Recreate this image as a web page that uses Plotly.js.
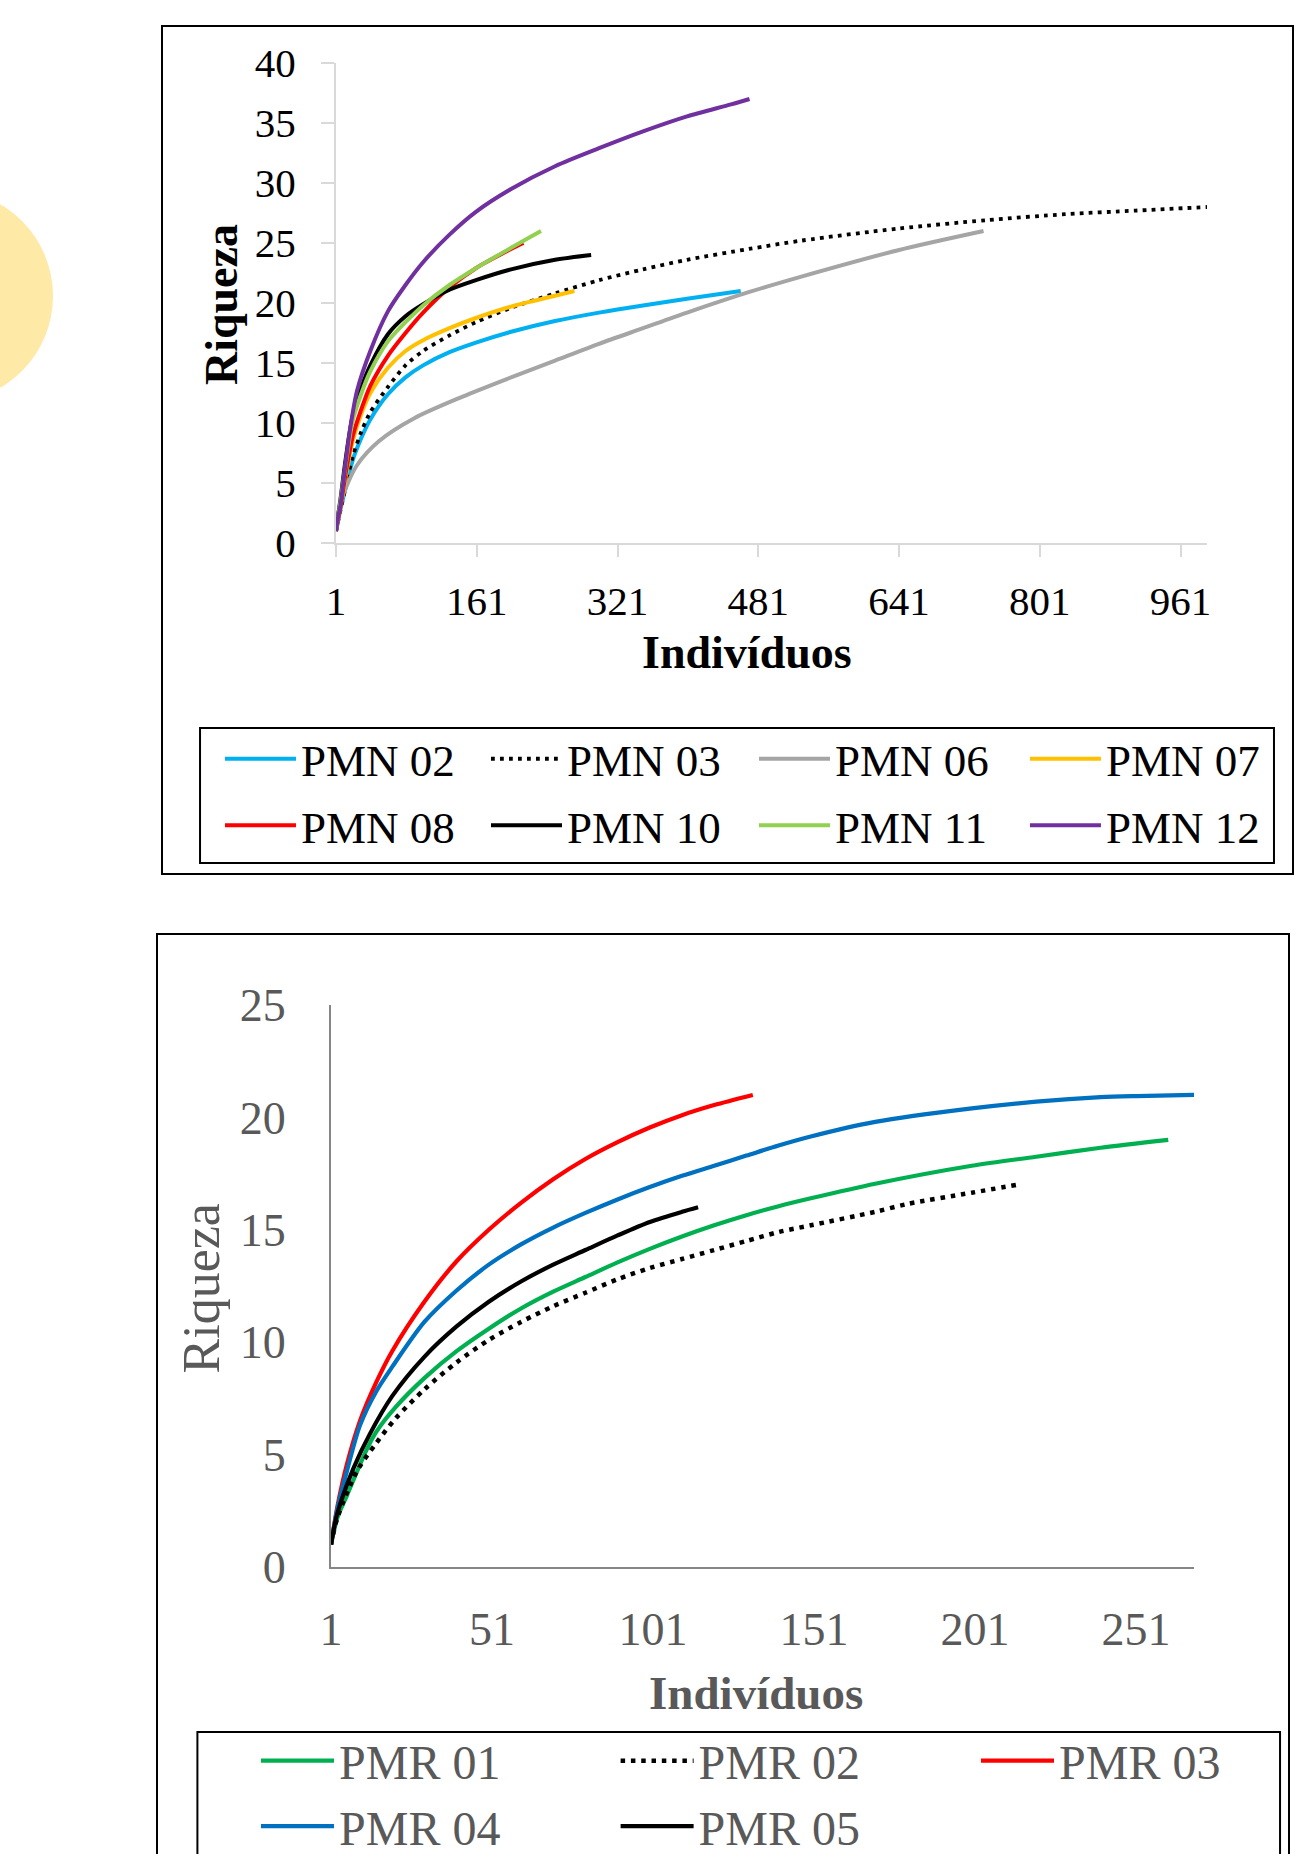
<!DOCTYPE html>
<html>
<head>
<meta charset="utf-8">
<script src="https://cdn.plot.ly/plotly-3.0.1.min.js"></script>
<style>
html,body{margin:0;padding:0;background:#fff;width:1298px;height:1854px;overflow:hidden;position:relative;}
#deco{position:absolute;left:-159px;top:190px;width:212px;height:212px;border-radius:50%;background:#FFE9A6;}
.frame{position:absolute;border:2px solid #000;box-sizing:border-box;background:#fff;}
#f1{left:161px;top:25px;width:1133px;height:850px;}
#f2{left:156px;top:933px;width:1134px;height:960px;}
</style>
</head>
<body>
<div id="deco"></div>
<div class="frame" id="f1"><div id="p1"></div></div>
<div class="frame" id="f2"><div id="p2"></div></div>
<script>
// ---------- Top chart (PMN) ----------
const pmnNames = ['PMN 02','PMN 03','PMN 06','PMN 07','PMN 08','PMN 10','PMN 11','PMN 12'];
const pmn02_x = [1,3,6,12,20,30,40,60,80,100,130,160,200,250,300,350,400,461];
const pmn02_y = [1,1.7,2.8,4.6,6.9,8.8,10.3,12.4,13.8,14.8,15.9,16.7,17.6,18.5,19.2,19.8,20.35,21];
const pmn03_x = [1,3,6,12,20,30,40,60,80,100,130,160,200,250,300,350,400,470,530,640,740,830,910,991];
const pmn03_y = [1,1.7,2.7,4.7,7.2,9.3,10.9,13.0,14.8,16.0,17.3,18.4,19.6,20.8,21.9,22.8,23.6,24.5,25.2,26.2,26.9,27.4,27.7,28];
const pmn06_x = [1,3,6,10,25,50,90,145,200,250,300,350,400,470,530,640,737];
const pmn06_y = [1,2.2,3.3,4.2,6.5,8.5,10.4,12.2,13.8,15.2,16.6,17.9,19.2,20.9,22.2,24.4,26];
const pmn07_x = [1,3,6,12,20,30,40,60,80,100,130,160,200,250,272];
const pmn07_y = [1,1.8,2.9,5.5,8.5,10.8,12.5,14.6,16.0,16.9,17.9,18.75,19.7,20.6,21];
const pmn08_x = [1,3,6,12,20,30,40,60,80,100,130,160,200,214];
const pmn08_y = [1,1.8,3.0,5.8,8.9,11.2,13.1,15.6,17.5,19.2,21.3,22.9,24.5,25];
const pmn10_x = [1,3,6,12,20,30,40,60,80,100,130,160,200,250,291];
const pmn10_y = [1,2.1,3.6,7,10.6,13,14.8,17.4,18.9,19.9,21.1,21.9,22.8,23.6,24];
const pmn11_x = [1,3,6,12,20,30,40,60,80,100,130,160,200,234];
const pmn11_y = [1,2,3.4,6.5,10.2,12.5,14.3,16.8,18.4,19.8,21.5,22.9,24.6,26];
const pmn12_x = [1,3,6,12,17,25,40,60,80,100,130,160,200,250,300,350,400,450,471];
const pmn12_y = [1,2,3.1,6.7,9.5,12.7,16.0,19.3,21.5,23.4,25.7,27.6,29.5,31.4,32.9,34.3,35.55,36.55,37];
const pmnXTicks = [1,161,321,481,641,801,961];
const pmnYTicks = [0,5,10,15,20,25,30,35,40];

// ---------- Bottom chart (PMR) ----------
const pmrNames = ['PMR 01','PMR 02','PMR 03','PMR 04','PMR 05'];
const pmr01_x = [1,3,6,12,15,21,30,40,50,60,70,80,90,100,110,120,130,140,150,170,200,220,240,261];
const pmr01_y = [1,2.2,3.2,5.2,6.0,7.1,8.4,9.6,10.6,11.5,12.25,12.9,13.55,14.15,14.7,15.2,15.65,16.05,16.4,17.05,17.85,18.25,18.65,19];
const pmr02_x = [1,3,9,15,21,30,40,50,60,70,80,90,100,110,120,130,140,150,170,180,200,214];
const pmr02_y = [1,2.2,4.25,5.5,6.6,7.9,9.1,10.1,10.9,11.6,12.2,12.8,13.3,13.7,14.1,14.5,14.9,15.2,15.8,16.15,16.65,17];
const pmr03_x = [1,3,6,10,15,20,30,40,50,60,70,80,90,100,110,120,132];
const pmr03_y = [1,2.7,4.6,6.5,8.2,9.6,11.8,13.6,15.0,16.2,17.25,18.15,18.9,19.55,20.1,20.55,21];
const pmr04_x = [1,3,6,10,15,20,30,40,50,60,70,80,90,100,110,120,130,140,150,170,200,220,240,251,269];
const pmr04_y = [1,2.6,4.3,6.3,7.8,8.9,10.9,12.3,13.45,14.35,15.1,15.75,16.35,16.9,17.4,17.85,18.3,18.75,19.15,19.8,20.4,20.7,20.9,20.95,21];
const pmr05_x = [1,3,8,13,20,30,40,50,60,70,80,90,100,110,115];
const pmr05_y = [1,2.4,4.4,5.9,7.6,9.35,10.7,11.8,12.7,13.45,14.1,14.75,15.35,15.8,16];
const pmrXTicks = [1,51,101,151,201,251];
const pmrYTicks = [0,5,10,15,20,25];

const FONT = 'Liberation Serif, Times New Roman, serif';

function tr(name, x, y, color, dash, w, leg, grp) {
  const t = {type:'scatter', mode:'lines', name:name, x:x, y:y,
    line:{color:color, width:w, dash:dash || 'solid', shape:'spline', smoothing:0.8},
    hoverinfo:'skip', legend:leg};
  if (grp) t.legendgroup = name;
  return t;
}

// legend columns (top): col1 PMN02/PMN08, col2 PMN03/PMN10, col3 PMN06/PMN11, col4 PMN07/PMN12
const topTraces = [
  tr(pmnNames[0], pmn02_x, pmn02_y, '#00B0F0', null, 4, 'legend', true),
  tr(pmnNames[1], pmn03_x, pmn03_y, '#000000', '3.8px,5.2px', 3.8, 'legend2', true),
  tr(pmnNames[2], pmn06_x, pmn06_y, '#A5A5A5', null, 4, 'legend3', true),
  tr(pmnNames[3], pmn07_x, pmn07_y, '#FFC000', null, 4, 'legend4', true),
  tr(pmnNames[4], pmn08_x, pmn08_y, '#FF0000', null, 4, 'legend', true),
  tr(pmnNames[5], pmn10_x, pmn10_y, '#000000', null, 4, 'legend2', true),
  tr(pmnNames[6], pmn11_x, pmn11_y, '#92D050', null, 4, 'legend3', true),
  tr(pmnNames[7], pmn12_x, pmn12_y, '#7030A0', null, 4, 'legend4', true)
];

function legCol(x, y, size, color, iw, gap) {
  return {orientation:'v', x:x, y:y, xanchor:'left', yanchor:'top',
    bgcolor:'rgba(0,0,0,0)', borderwidth:0, itemwidth:iw, tracegroupgap:gap,
    font:{family:FONT, size:size, color:color}};
}

const topLayout = {
  width:1129, height:846,
  margin:{l:173, r:85, t:36, b:330, pad:0, autoexpand:false},
  paper_bgcolor:'#fff', plot_bgcolor:'#fff',
  font:{family:FONT, color:'#000'},
  showlegend:true,
  xaxis:{range:[1,991], tickvals:pmnXTicks, ticktext:pmnXTicks.map(String),
    showline:true, linecolor:'#D9D9D9', linewidth:2, showgrid:false, zeroline:false,
    ticks:'outside', ticklen:12, tickwidth:2, tickcolor:'#D9D9D9',
    tickfont:{family:FONT, size:41, color:'#000'}, ticklabelstandoff:9, fixedrange:true},
  yaxis:{range:[0,40], tickvals:pmnYTicks,
    showline:true, linecolor:'#D9D9D9', linewidth:2, showgrid:false, zeroline:false,
    ticks:'outside', ticklen:13, tickwidth:2, tickcolor:'#D9D9D9',
    tickfont:{family:FONT, size:41, color:'#000'}, ticklabelstandoff:17, fixedrange:true},
  legend:  legCol(-0.1332, -0.375, 45, '#000', 71, 5),
  legend2: legCol(0.1722, -0.375, 45, '#000', 71, 5),
  legend3: legCol(0.4799, -0.375, 45, '#000', 71, 5),
  legend4: legCol(0.7910, -0.375, 45, '#000', 71, 5),
  shapes:[
    {type:'rect', xref:'paper', yref:'paper', x0:-0.1561, x1:1.0769, y0:-0.6667, y1:-0.3854,
     line:{color:'#000', width:2}, fillcolor:'rgba(0,0,0,0)', layer:'above'}
  ],
  annotations:[
    {text:'<b>Riqueza</b>', xref:'paper', yref:'paper', x:-0.1320, y:0.4958,
     xanchor:'center', yanchor:'middle', textangle:-90, showarrow:false,
     font:{family:FONT, size:46, color:'#000'}},
    {text:'<b>Indivíduos</b>', xref:'paper', yref:'paper', x:0.4719, y:-0.2271,
     xanchor:'center', yanchor:'middle', showarrow:false,
     font:{family:FONT, size:46, color:'#000'}}
  ]
};

// legend columns (bottom): col1 PMR01/PMR04, col2 PMR02/PMR05, col3 PMR03
const botTraces = [
  tr(pmrNames[0], pmr01_x, pmr01_y, '#00B050', null, 4.2, 'legend'),
  tr(pmrNames[1], pmr02_x, pmr02_y, '#000000', '4.5px,5.8px', 4.5, 'legend2'),
  tr(pmrNames[2], pmr03_x, pmr03_y, '#FF0000', null, 4.2, 'legend3'),
  tr(pmrNames[3], pmr04_x, pmr04_y, '#0070C0', null, 4.2, 'legend'),
  tr(pmrNames[4], pmr05_x, pmr05_y, '#000000', null, 4.2, 'legend2')
];

const botLayout = {
  width:1130, height:956,
  margin:{l:173, r:94, t:70, b:324, pad:0, autoexpand:false},
  paper_bgcolor:'#fff', plot_bgcolor:'#fff',
  font:{family:FONT, color:'#595959'},
  showlegend:true,
  xaxis:{range:[1,269], tickvals:pmrXTicks, ticktext:pmrXTicks.map(String),
    showline:true, linecolor:'#868686', linewidth:2, showgrid:false, zeroline:false,
    ticks:'', tickfont:{family:FONT, size:46, color:'#595959'}, ticklabelstandoff:21, fixedrange:true},
  yaxis:{range:[0,25], tickvals:pmrYTicks,
    showline:true, linecolor:'#868686', linewidth:2, showgrid:false, zeroline:false,
    ticks:'', tickfont:{family:FONT, size:46, color:'#595959'}, ticklabelstandoff:34, fixedrange:true},
  legend:  legCol(-0.0869, -0.2776, 48, '#595959', 73, 0),
  legend2: legCol(0.3298, -0.2776, 48, '#595959', 73, 0),
  legend3: legCol(0.7474, -0.2776, 48, '#595959', 73, 0),
  shapes:[
    {type:'rect', xref:'paper', yref:'paper', x0:-0.1548, x1:1.0997, y0:-0.566, y1:-0.2936,
     line:{color:'#000', width:2}, fillcolor:'rgba(0,0,0,0)', layer:'above'}
  ],
  annotations:[
    {text:'Riqueza', xref:'paper', yref:'paper', x:-0.1506, y:0.4956,
     xanchor:'center', yanchor:'middle', textangle:-90, showarrow:false,
     font:{family:FONT, size:52, color:'#595959'}},
    {text:'<b>Indivíduos</b>', xref:'paper', yref:'paper', x:0.4930, y:-0.2242,
     xanchor:'center', yanchor:'middle', showarrow:false,
     font:{family:FONT, size:47, color:'#595959'}}
  ]
};

const cfg = {staticPlot:true, displayModeBar:false, responsive:false};
Plotly.newPlot('p1', topTraces, topLayout, cfg);
Plotly.newPlot('p2', botTraces, botLayout, cfg);
</script>
</body>
</html>
